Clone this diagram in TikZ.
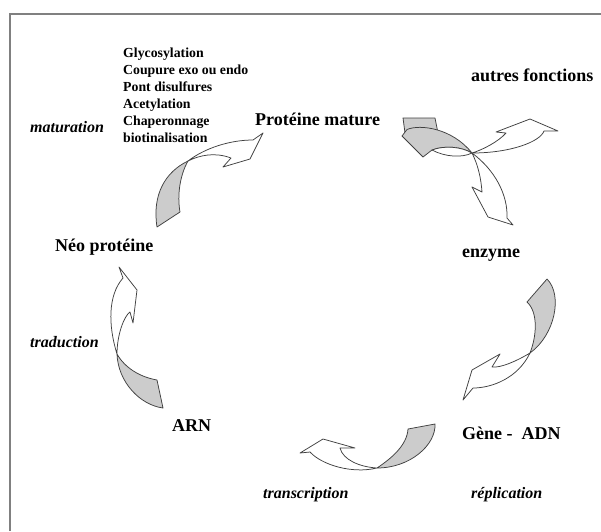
\documentclass[tikz,border=0pt]{standalone}
\usepackage{fontspec}
\setmainfont{Liberation Serif}
\begin{document}
\begin{tikzpicture}[x=1pt,y=-1pt,
  lab/.style={font=\fontsize{18}{20}\selectfont\bfseries, inner sep=0pt, anchor=base west},
  proc/.style={font=\fontsize{16}{18}\selectfont\bfseries\itshape, inner sep=0pt, anchor=base west},
  list/.style={font=\fontsize{13.8}{17}\selectfont\bfseries, inner sep=0pt, anchor=north west, align=left},
  ribbon/.style={draw=black!75, line width=0.75pt, line join=round},
  back/.style={ribbon, fill=black!20},
  front/.style={ribbon, fill=white},
  frameline/.style={draw=black!50, line width=1.8pt}
]
\useasboundingbox (0,0) rectangle (601,531);
\draw[frameline] (10,531) -- (10,14) -- (601,14);

% labels
\node[list] (mods) at (123,47.5) {Glycosylation\\Coupure exo ou endo\\Pont disulfures\\Acetylation\\Chaperonnage\\biotinalisation};
\node[proc] (matur) at (30,132) {maturation};
\node[lab] (prot) at (255,125) {Protéine mature};
\node[lab] (autres) at (471,81) {autres fonctions};
\node[lab] (enz) at (462,257) {enzyme};
\node[lab] (neo) at (55,251) {Néo protéine};
\node[proc] (trad) at (30,347) {traduction};
\node[lab] (arn) at (172,431) {ARN};
\node[lab] (gene) at (462,439) {Gène -\ \ ADN};
\node[proc] (transc) at (263,498) {transcription};
\node[proc] (repl) at (471,498) {réplication};

% twist points
\coordinate (t1) at (188,161);
\coordinate (t2) at (117,354);
\coordinate (t3) at (472,153);
\coordinate (t4) at (530,353);
\coordinate (t5) at (377,468);

% arrow 1 : maturation
\draw[back] (t1) .. controls (165,172) and (152,195) .. (157,227) -- (180,212)
  .. controls (177,195) and (180,175) .. (t1) -- cycle;
\draw[front] (t1) .. controls (205,148) and (230,140) .. (253,140) -- (263,133) -- (250,159)
  -- (223,167) -- (231,158) .. controls (215,152) and (200,155) .. (t1) -- cycle;

% arrow 2 : traduction
\draw[back] (t2) .. controls (118,382) and (140,405) .. (163,408) -- (157,380)
  .. controls (140,377) and (125,368) .. (t2) -- cycle;
\draw[front] (t2) .. controls (108,325) and (108,295) .. (123,278) -- (119,267) -- (137,290)
  -- (133,323) -- (130,312) .. controls (124,316) and (117,335) .. (t2) -- cycle;

% arrow 3 : protéine mature -> autres fonctions / enzyme
\draw[back] (403,118) -- (435,118) -- (438,133) -- (405,133) -- cycle;
\draw[back] (402,136) -- (407,129.5) .. controls (420,124) and (452,128) .. (t3)
  .. controls (462,147) and (445,145) .. (432,150) -- (423,157) -- cycle;
\draw[front] (432,150) .. controls (445,157) and (462,158) .. (t3)
  .. controls (462,147) and (445,145) .. (432,150) -- cycle;
\draw[front] (t3) .. controls (482,150) and (498,142) .. (506,133) -- (496,132) -- (530,119)
  -- (558,131) -- (544,131) .. controls (540,142) and (510,153) .. (t3) -- cycle;
\draw[front] (t3) .. controls (478,165) and (481,178) .. (482,192) -- (472,187) -- (488,217)
  -- (513,225) -- (507,218) .. controls (508,195) and (495,170) .. (t3) -- cycle;

% arrow 4 : enzyme -> gène
\draw[back] (547,279) .. controls (563,295) and (555,335) .. (t4)
  .. controls (537,335) and (538,312) .. (527,302) -- cycle;
\draw[front] (t4) .. controls (515,362) and (500,368) .. (492,367) -- (500,354) -- (472,370)
  -- (463,400) -- (473,388) .. controls (492,388) and (518,378) .. (t4) -- cycle;

% arrow 5 : transcription
\draw[back] (435,424) .. controls (436,445) and (410,468) .. (t5)
  .. controls (392,458) and (407,445) .. (408,429) -- cycle;
\draw[front] (t5) .. controls (360,467) and (343,460) .. (340,448) -- (355,448) -- (323,439)
  -- (300,453) -- (310,452) .. controls (322,465) and (352,474) .. (t5) -- cycle;
\end{tikzpicture}
\end{document}
